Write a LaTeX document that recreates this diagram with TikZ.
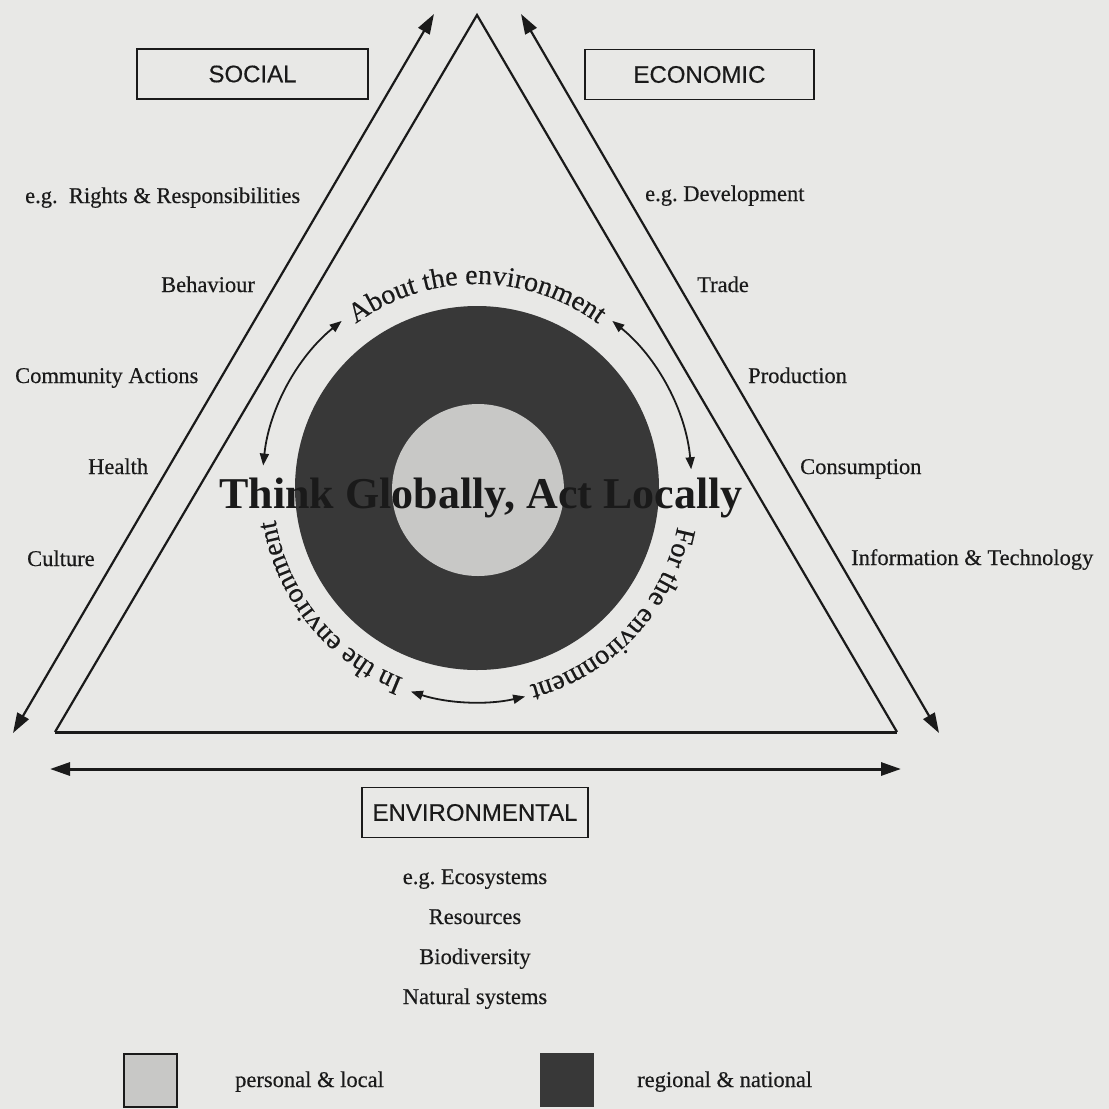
\documentclass[tikz,border=0pt]{standalone}
\usepackage{fontspec}
\setmainfont{Liberation Serif}[UprightFeatures={FakeBold=0.35}]
\setsansfont{Liberation Sans}[UprightFeatures={FakeBold=0.3}]
\usetikzlibrary{arrows.meta,decorations.text,calc}
\definecolor{bg}{HTML}{E8E8E6}
\definecolor{ink}{HTML}{1A1A1A}
\definecolor{darkc}{HTML}{383838}
\definecolor{lightc}{HTML}{C8C8C6}
\newcommand{\arcfont}{\fontsize{28}{28}\selectfont}
\begin{document}
\begin{tikzpicture}[x=1pt,y=-1pt,
  lbl/.style={font=\fontsize{22.5}{22.5}\selectfont, text=ink, inner sep=0pt},
  boxlbl/.style={draw=ink, line width=1.8pt, font=\sffamily\fontsize{24}{24}\selectfont, text=ink, minimum height=50pt, inner sep=0pt},
  bigarrow/.style={draw=ink, line width=2.2pt, {Triangle[length=20pt,width=13pt]}-{Triangle[length=20pt,width=13pt]}},
  smallarrow/.style={draw=ink, line width=1.8pt, {Triangle[length=12pt,width=9pt]}-{Triangle[length=12pt,width=9pt]}},
  arctext/.style={decorate, decoration={text along path, text align=center, text={|\arcfont\color{ink}|#1}}}
]
\fill[bg] (0,0) rectangle (1109,1109);
\useasboundingbox (0,0) rectangle (1109,1109);

% circles
\coordinate (c) at (477,488);
\node[circle, fill=darkc, minimum size=364pt, inner sep=0pt] (outer) at (c) {};
\node[circle, fill=lightc, minimum size=172pt, inner sep=0pt] (inner) at (478,490) {};

% triangle
\coordinate (apex) at (477,15);
\coordinate (bl) at (55,732);
\coordinate (br) at (897,732);
\draw[ink, line width=2.2pt] (bl) -- (apex) -- (br);
\draw[ink, line width=3pt] (bl) -- (br);

% big arrows
\coordinate (la1) at (434,14);
\coordinate (la2) at (13,733);
\coordinate (ra1) at (521,14);
\coordinate (ra2) at (939,733);
\coordinate (ba1) at (50,769);
\coordinate (ba2) at (901,769);
\draw[bigarrow] (la1) -- (la2);
\draw[bigarrow] (ra1) -- (ra2);
\draw[bigarrow, line width=3pt] (ba1) -- (ba2);

% boxes
\node[boxlbl, minimum width=231pt] (social) at (252.5,74) {SOCIAL};
\node[boxlbl, minimum width=229pt] (economic) at (699.5,74.5) {ECONOMIC};
\node[boxlbl, minimum width=226pt] (environmental) at (475,812.5) {ENVIRONMENTAL};

% central text
\node[font=\bfseries\fontsize{44}{44}\selectfont, text=ink, inner sep=0pt, anchor=base] (think) at (481,508) {Think Globally, Act Locally};

% curved texts
\path[arctext={About the environment}] ($(c)+(-150:204)$) arc[start angle=-150, end angle=-30, radius=204];
\path[arctext={For the environment}] ($(c)+(-17:204)$) arc[start angle=-17, end angle=103, radius=204];
\path[arctext={In the environment}] ($(c)+(81:204)$) arc[start angle=81, end angle=201, radius=204];

% curved arrows
\coordinate (a1s) at ($(c)+(-129:215)$);
\coordinate (a2s) at ($(c)+(-51:215)$);
\coordinate (a3s) at ($(c)+(108:214)$);
\draw[smallarrow] (a1s) arc[start angle=-129, end angle=-174, radius=215];
\draw[smallarrow] (a2s) arc[start angle=-51, end angle=-5, radius=215];
\draw[smallarrow] (a3s) arc[start angle=108, end angle=77, radius=214];

% social labels
\node[lbl, anchor=base west] (s1) at (25,203) {e.g.\ \ Rights \& Responsibilities};
\node[lbl, anchor=base west] (s2) at (161,292) {Behaviour};
\node[lbl, anchor=base west] (s3) at (15,383) {Community Actions};
\node[lbl, anchor=base west] (s4) at (88,474) {Health};
\node[lbl, anchor=base west] (s5) at (27,566) {Culture};

% economic labels
\node[lbl, anchor=base west] (e1) at (645,201) {e.g.\ Development};
\node[lbl, anchor=base west] (e2) at (697,292) {Trade};
\node[lbl, anchor=base west] (e3) at (748,383) {Production};
\node[lbl, anchor=base west] (e4) at (800,474) {Consumption};
\node[lbl, anchor=base west] (e5) at (851,565) {Information \& Technology};

% environmental labels
\node[lbl, anchor=base] (v1) at (475,884) {e.g.\ Ecosystems};
\node[lbl, anchor=base] (v2) at (475,924) {Resources};
\node[lbl, anchor=base] (v3) at (475,964) {Biodiversity};
\node[lbl, anchor=base] (v4) at (475,1004) {Natural systems};

% legend
\node[draw=ink, line width=2pt, fill=lightc, minimum size=53pt, inner sep=0pt] (leg1) at (150,1080) {};
\node[fill=darkc, minimum size=54pt, inner sep=0pt] (leg2) at (567,1080) {};
\node[lbl, anchor=base west] (leg1t) at (235,1087) {personal \& local};
\node[lbl, anchor=base west] (leg2t) at (637,1087) {regional \& national};
\end{tikzpicture}
\end{document}
